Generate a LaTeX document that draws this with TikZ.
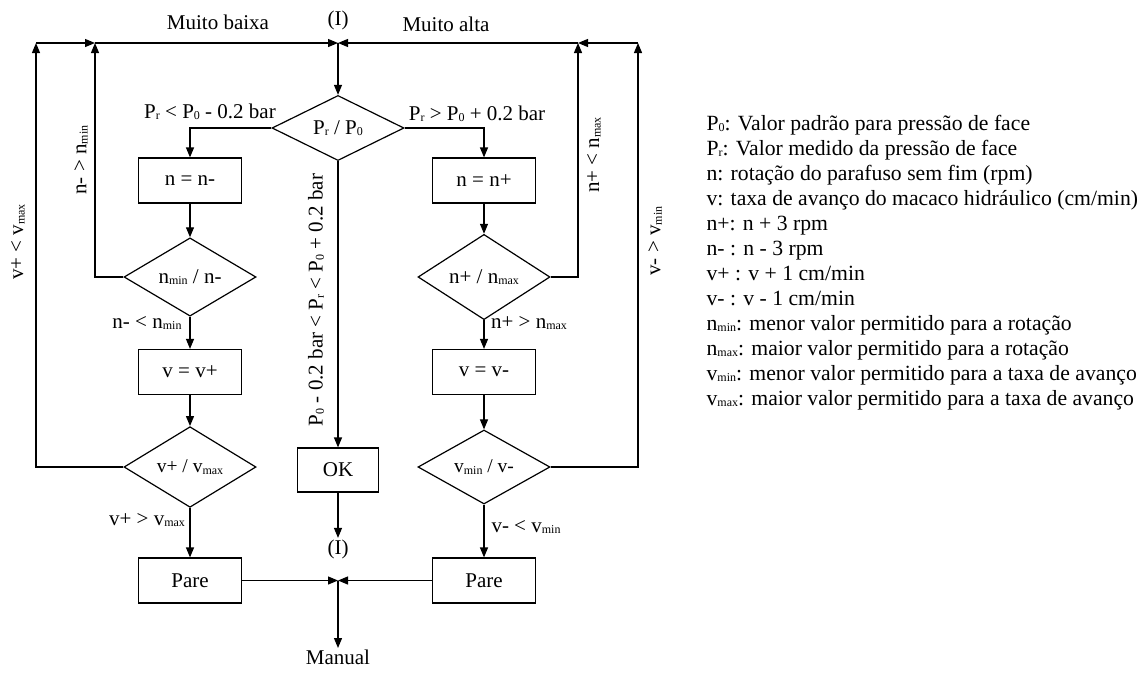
\documentclass[tikz,border=0pt]{standalone}
\usepackage{fontspec}
\setmainfont{Liberation Serif}
\usetikzlibrary{shapes.geometric,arrows.meta}
\newcommand{\sbx}[1]{\raisebox{-0.15ex}{\fontsize{12}{12}\selectfont #1}}
\begin{document}
\begin{tikzpicture}[x=1pt,y=-1pt,line width=1.2pt,
  every node/.style={font=\fontsize{21}{25}\selectfont},
  stepbox/.style={draw,rectangle,minimum width=103pt,minimum height=45pt,inner sep=0pt},
  decision/.style={draw,diamond,minimum width=132pt,minimum height=59pt,inner sep=0pt},
  arr/.style={-{Triangle[length=10pt,width=8pt]}},
  lbl/.style={inner sep=1pt},
  legend/.style={anchor=base west,inner sep=0pt,font=\fontsize{21.7}{25}\selectfont}]
\useasboundingbox (0,0) rectangle (1145,672);

% junctions and corners
\coordinate (J1) at (338,43);
\coordinate (J2) at (338,580.5);
\coordinate (L1) at (95,43);
\coordinate (L2) at (36,43);
\coordinate (R1) at (578,43);
\coordinate (R2) at (638,43);

% nodes
\node[decision] (d0) at (338,128) {P\sbx{r} / P\sbx{0}};
\node[stepbox] (b1) at (190,180.5) {n = n-};
\node[stepbox] (b2) at (484,180.5) {n = n+};
\node[decision] (d1) at (190,277) {n\sbx{min} / n-};
\node[decision] (d2) at (484,277) {n+ / n\sbx{max}};
\node[stepbox] (b3) at (190,372) {v = v+};
\node[stepbox] (b4) at (484,372) {v = v-};
\node[decision,font=\fontsize{19.5}{23}\selectfont] (d3) at (190,467) {v+ / v\sbx{max}};
\node[decision,font=\fontsize{19.5}{23}\selectfont] (d4) at (484,467) {v\sbx{min} / v-};
\node[stepbox,minimum width=81pt,minimum height=44pt] (ok) at (338,470) {OK};
\node[stepbox] (p1) at (190,580.5) {Pare};
\node[stepbox] (p2) at (484,580.5) {Pare};
\node[lbl] (itop) at (338,20) {(I)};
\node[lbl] (ibot) at (338,549) {(I)};
\node[lbl,anchor=north] (man) at (338,648) {Manual};
\node[lbl] (mb) at (218,22) {Muito baixa};
\node[lbl] (ma) at (446,24) {Muito alta};

% connectors
\draw[arr] (J1) -- (d0.north);
\draw[arr] (d0.west) -| (b1.north);
\draw[arr] (d0.east) -| (b2.north);
\draw[arr] (b1.south) -- (d1.north);
\draw[arr] (b2.south) -- (d2.north);
\draw[arr] (d1.south) -- (b3.north);
\draw[arr] (d2.south) -- (b4.north);
\draw[arr] (b3.south) -- (d3.north);
\draw[arr] (b4.south) -- (d4.north);
\draw[arr] (d3.south) -- (p1.north);
\draw[arr] (d4.south) -- (p2.north);
\draw[arr] (d0.south) -- (ok.north);
\draw[arr] (ok.south) -- (ibot.north);
\draw[arr] (d1.west) -| (L1);
\draw[arr] (d3.west) -| (L2);
\draw[arr] (L2) -- (L1);
\draw[arr] (L1) -- (J1);
\draw[arr] (d2.east) -| (R1);
\draw[arr] (d4.east) -| (R2);
\draw[arr] (R2) -- (R1);
\draw[arr] (R1) -- (J1);
\draw[arr] (p1.east) -- (J2);
\draw[arr] (p2.west) -- (J2);
\draw[arr] (J2) -- (man.north);

% connector labels
\node[lbl] (c1) at (210,112) {P\sbx{r} < P\sbx{0} - 0.2 bar};
\node[lbl] (c2) at (477,114) {P\sbx{r} > P\sbx{0} + 0.2 bar};
\node[lbl,rotate=90] (c3) at (316,300) {P\sbx{0} - 0.2 bar < P\sbx{r} < P\sbx{0} + 0.2 bar};
\node[lbl,rotate=90] (c4) at (81,160) {n- > n\sbx{min}};
\node[lbl,rotate=90] (c5) at (18,242) {v+ < v\sbx{max}};
\node[lbl,rotate=90] (c6) at (594,155) {n+ < n\sbx{max}};
\node[lbl,rotate=90] (c7) at (655,241) {v- > v\sbx{min}};
\node[lbl] (c8) at (147,323) {n- < n\sbx{min}};
\node[lbl] (c9) at (529,323) {n+ > n\sbx{max}};
\node[lbl] (c10) at (147,520) {v+ > v\sbx{max}};
\node[lbl] (c11) at (526,527) {v- < v\sbx{min}};

% legend
\node[legend] (g1) at (706,130) {P\sbx{0}: Valor padrão para pressão de face};
\node[legend] (g2) at (706,155) {P\sbx{r}: Valor medido da pressão de face};
\node[legend] (g3) at (706,180) {n: rotação do parafuso sem fim (rpm)};
\node[legend] (g4) at (706,205) {v: taxa de avanço do macaco hidráulico (cm/min)};
\node[legend] (g5) at (706,230) {n+: n + 3 rpm};
\node[legend] (g6) at (706,255) {n- : n - 3 rpm};
\node[legend] (g7) at (706,280) {v+ : v + 1 cm/min};
\node[legend] (g8) at (706,305) {v- : v - 1 cm/min};
\node[legend] (g9) at (706,330) {n\sbx{min}: menor valor permitido para a rotação};
\node[legend] (g10) at (706,355) {n\sbx{max}: maior valor permitido para a rotação};
\node[legend] (g11) at (706,380) {v\sbx{min}: menor valor permitido para a taxa de avanço};
\node[legend] (g12) at (706,405) {v\sbx{max}: maior valor permitido para a taxa de avanço};
\end{tikzpicture}
\end{document}
